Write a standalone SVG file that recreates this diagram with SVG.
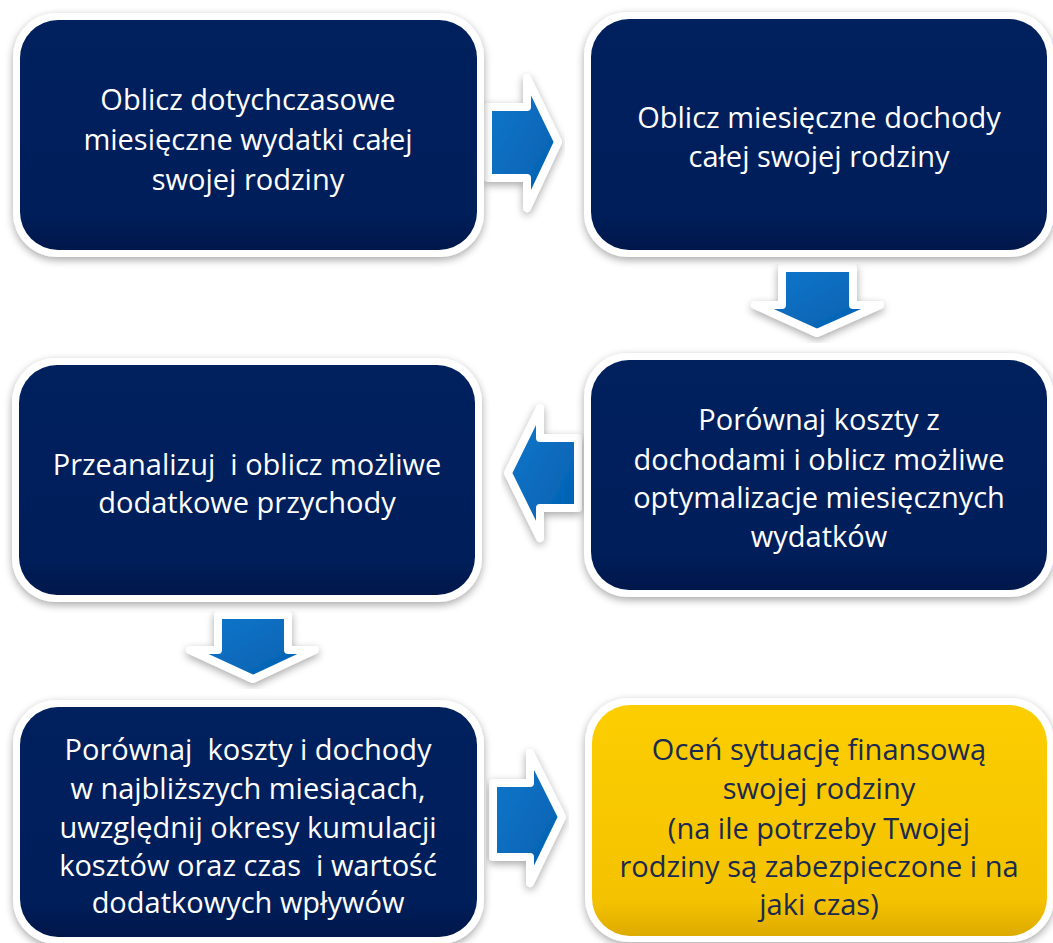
<svg xmlns="http://www.w3.org/2000/svg" width="1053" height="943" viewBox="0 0 1053 943">
<defs>
<linearGradient id="navy" x1="0" y1="0" x2="0" y2="1">
<stop offset="0" stop-color="#00205e"/>
<stop offset="0.85" stop-color="#001e5a"/>
<stop offset="1" stop-color="#00174a"/>
</linearGradient>
<linearGradient id="gold" x1="0" y1="0" x2="0" y2="1">
<stop offset="0" stop-color="#fcce00"/>
<stop offset="0.85" stop-color="#f4c200"/>
<stop offset="1" stop-color="#ddaa00"/>
</linearGradient>
<linearGradient id="blue" x1="0" y1="0" x2="1" y2="1">
<stop offset="0" stop-color="#1478cc"/>
<stop offset="1" stop-color="#005eae"/>
</linearGradient>
<filter id="sh" x="-10%" y="-10%" width="120%" height="125%">
<feGaussianBlur in="SourceAlpha" stdDeviation="4"/>
<feOffset dx="0" dy="3" result="b"/>
<feComponentTransfer in="b" result="c"><feFuncA type="linear" slope="0.35"/></feComponentTransfer>
<feMerge><feMergeNode in="c"/><feMergeNode in="SourceGraphic"/></feMerge>
</filter>
</defs>
<style>
.frame{fill:#ffffff;filter:url(#sh)}
.dark{fill:url(#navy)}
.yel{fill:url(#gold)}
.t{font-family:"Open Sans","Noto Sans",sans-serif;font-size:29px;fill:#ffffff;text-anchor:middle}
.ty{font-family:"Open Sans","Noto Sans",sans-serif;font-size:29px;fill:#1b2a50;text-anchor:middle}
.arr{fill:url(#blue);stroke:#ffffff;stroke-width:8;stroke-linejoin:round;filter:url(#sh)}
</style>
<rect width="1053" height="943" fill="#ffffff"/>

<g id="connectors">
<polygon class="arr" points="488,107 527,107 527,78 558,142 527,208 527,178 488,178"/>
<polygon class="arr" points="782,268 853,268 853,305 880,305 817,333 755,305 782,305"/>
<polygon class="arr" points="578,438 540,438 540,408 508,473 540,538 540,508 578,508"/>
<polygon class="arr" points="218,615 288,615 288,650 315,650 253,679 190,650 218,650"/>
<polygon class="arr" points="493,783 530,783 530,753 562,817 530,883 530,857 493,857"/>
</g>

<g id="n1">
<rect class="frame" x="13" y="13" width="471" height="244" rx="44"/>
<rect class="dark" x="20" y="20" width="457" height="230" rx="38"/>
<text class="t" x="248" y="110">Oblicz dotychczasowe</text>
<text class="t" x="248" y="150">miesięczne wydatki całej</text>
<text class="t" x="248" y="190">swojej rodziny</text>
</g>

<g id="n2">
<rect class="frame" x="584" y="12" width="470" height="245" rx="44"/>
<rect class="dark" x="591" y="19" width="456" height="231" rx="38"/>
<text class="t" x="819" y="128">Oblicz miesięczne dochody</text>
<text class="t" x="819" y="167">całej swojej rodziny</text>
</g>

<g id="n3">
<rect class="frame" x="12" y="358" width="470" height="244" rx="44"/>
<rect class="dark" x="19" y="365" width="456" height="230" rx="38"/>
<text class="t" x="247" y="475" xml:space="preserve">Przeanalizuj  i oblicz możliwe</text>
<text class="t" x="247" y="513">dodatkowe przychody</text>
</g>

<g id="n4">
<rect class="frame" x="584" y="353" width="470" height="244" rx="44"/>
<rect class="dark" x="591" y="360" width="456" height="230" rx="38"/>
<text class="t" x="819" y="430">Porównaj koszty z</text>
<text class="t" x="819" y="470">dochodami i oblicz możliwe</text>
<text class="t" x="819" y="508">optymalizacje miesięcznych</text>
<text class="t" x="819" y="547">wydatków</text>
</g>

<g id="n5">
<rect class="frame" x="13" y="700" width="471" height="244" rx="44"/>
<rect class="dark" x="20" y="707" width="457" height="230" rx="38"/>
<text class="t" x="248" y="760" xml:space="preserve">Porównaj  koszty i dochody</text>
<text class="t" x="248" y="799">w najbliższych miesiącach,</text>
<text class="t" x="248" y="838">uwzględnij okresy kumulacji</text>
<text class="t" x="248" y="876" xml:space="preserve">kosztów oraz czas  i wartość</text>
<text class="t" x="248" y="913">dodatkowych wpływów</text>
</g>

<g id="n6">
<rect class="frame" x="585" y="698" width="469" height="244" rx="44"/>
<rect class="yel" x="592" y="705" width="455" height="231" rx="38"/>
<text class="ty" x="819" y="760">Oceń sytuację finansową</text>
<text class="ty" x="819" y="799">swojej rodziny</text>
<text class="ty" x="819" y="839">(na ile potrzeby Twojej</text>
<text class="ty" x="819" y="877">rodziny są zabezpieczone i na</text>
<text class="ty" x="819" y="915">jaki czas)</text>
</g>
</svg>
